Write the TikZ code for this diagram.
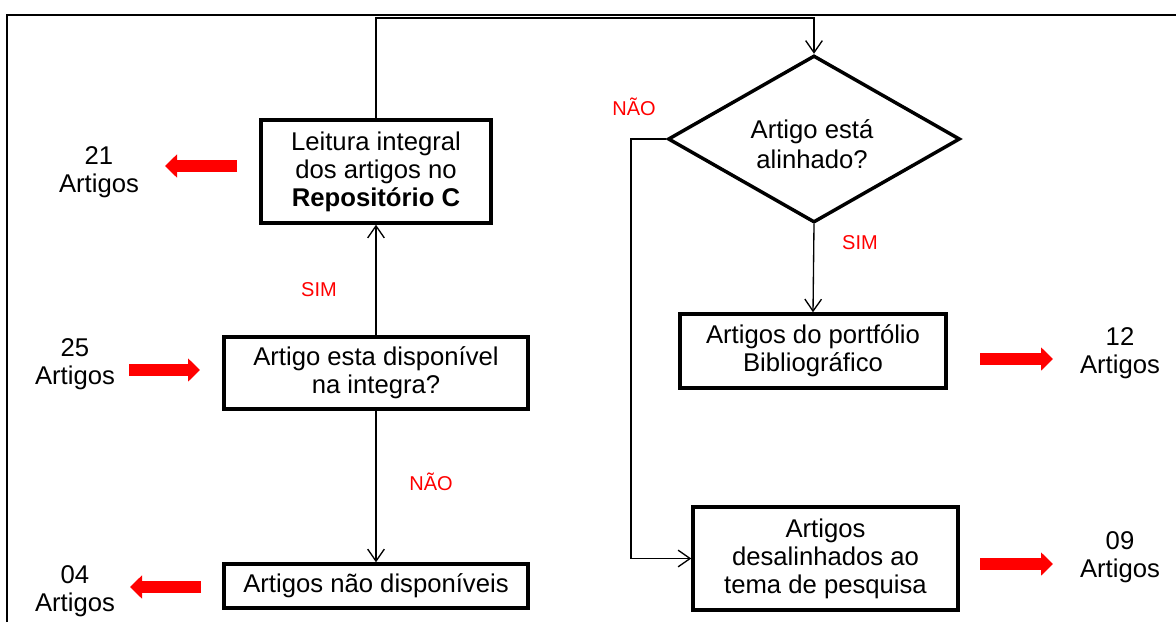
\documentclass[tikz,border=0pt]{standalone}
\usepackage{fontspec}
\setmainfont{Liberation Sans}
\usetikzlibrary{arrows.meta,shapes.geometric}
\begin{document}
\begin{tikzpicture}[x=0.75pt,y=-0.75pt,
  box/.style={draw,line width=2.6pt,inner sep=2pt,align=center,font=\fontsize{19.25}{21}\selectfont},
  decision/.style={draw,diamond,line width=2.6pt,inner sep=0pt,align=center,font=\fontsize{19.25}{22.5}\selectfont},
  conn/.style={line width=1pt,-{Straight Barb[length=9pt,width=12.5pt]}},
  redarr/.style={draw=red,fill=red,line width=8.5pt,-{Triangle[length=9pt,width=17pt]}},
  lbl/.style={text=red,font=\fontsize{15}{18}\selectfont},
  cnt/.style={align=center,font=\fontsize{19.25}{21}\selectfont},
  framestyle/.style={line width=1.5pt}]
\useasboundingbox (0,0) rectangle (1176,622);
% frame
\draw[framestyle] (7,622) -- (7,15) -- (1176,15);
% boxes
\node[box,minimum width=172.5pt,minimum height=77.25pt] (b1) at (376,171.5) {Leitura integral\\dos artigos no\\\textbf{Repositório C}};
\node[box,minimum width=228pt,minimum height=54pt] (b2) at (376,373) {Artigo esta disponível\\na integra?};
\node[box,minimum width=228pt,minimum height=33pt] (b3) at (376,586) {Artigos não disponíveis};
\node[decision,minimum width=219pt,minimum height=125.25pt,aspect=1.75] (dia) at (814,139) {};
\node[align=center,font=\fontsize{19.25}{22.5}\selectfont] (diatext) at (812,144) {Artigo está\\alinhado?};
\node[box,minimum width=199.5pt,minimum height=55.5pt] (b4) at (813,351) {Artigos do portfólio\\Bibliográfico};
\node[box,minimum width=198.75pt,minimum height=77.25pt] (b5) at (825.5,558.5) {Artigos\\desalinhados ao\\tema de pesquisa};
% counts
\node[cnt] (n21) at (99,172) {21\\Artigos};
\node[cnt] (n25) at (75,364) {25\\Artigos};
\node[cnt] (n04) at (75,591) {04\\Artigos};
\node[cnt] (n12) at (1120,353) {12\\Artigos};
\node[cnt] (n09) at (1120,557) {09\\Artigos};
% red arrows
\coordinate (r21s) at (237,166); \coordinate (r21e) at (165,166);
\coordinate (r25s) at (129,370); \coordinate (r25e) at (200,370);
\coordinate (r04s) at (201,587); \coordinate (r04e) at (130,587);
\coordinate (r12s) at (980,359); \coordinate (r12e) at (1053,359);
\coordinate (r09s) at (980,564); \coordinate (r09e) at (1053,564);
\draw[redarr] (r21s) -- (r21e);
\draw[redarr] (r25s) -- (r25e);
\draw[redarr] (r04s) -- (r04e);
\draw[redarr] (r12s) -- (r12e);
\draw[redarr] (r09s) -- (r09e);
% connectors
\coordinate (t1) at (376,18);
\coordinate (t2) at (631,139);
\draw[conn] (b2.north) -- (b1.south);
\draw[conn] (b2.south) -- (b3.north);
\draw[conn] (b1.north) -- (t1) -| (dia.north);
\draw[conn] (dia.south) -- (b4.north);
\draw[conn] (dia.west) -- (t2) |- (b5.west);
% labels
\node[lbl] (s1) at (319,290) {SIM};
\node[lbl] (n1) at (431,482) {NÃO};
\node[lbl] (n2) at (634,107) {NÃO};
\node[lbl] (s2) at (860,243) {SIM};
\end{tikzpicture}
\end{document}
